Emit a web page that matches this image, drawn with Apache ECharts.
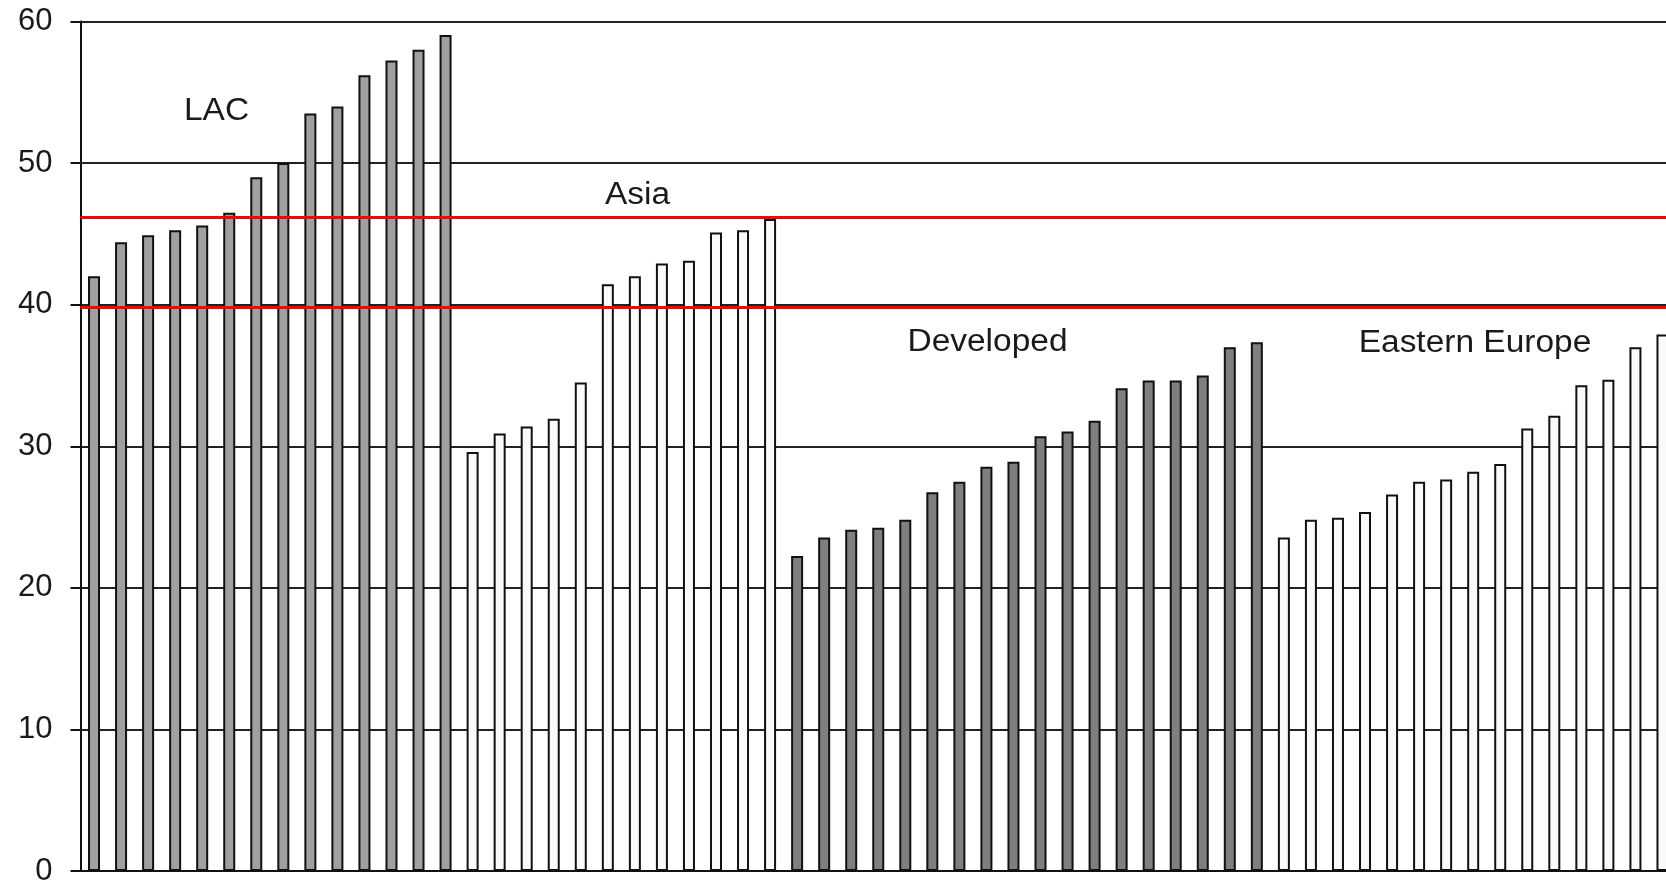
<!DOCTYPE html>
<html><head><meta charset="utf-8">
<script src="https://cdn.jsdelivr.net/npm/echarts@6/dist/echarts.min.js"></script>
<style>html,body{margin:0;padding:0;background:#fff}#c{width:1666px;height:880px}</style>
</head><body><div id="c"></div>
<script>
// Region values (percent)
const regions = ['LAC', 'Asia', 'Developed', 'Eastern Europe'];
const lac = [42.0, 44.4, 44.9, 45.25, 45.6, 46.5, 49.0, 50.0, 53.5, 54.0, 56.2, 57.25, 58.0, 59.05];
const asia = [29.6, 30.9, 31.4, 31.95, 34.5, 41.45, 42.0, 42.9, 43.1, 45.1, 45.25, 46.05];
const developed = [22.25, 23.55, 24.1, 24.25, 24.8, 26.75, 27.5, 28.55, 28.9, 30.7, 31.05, 31.8, 34.1, 34.65, 34.65, 35.0, 37.0, 37.35];
const easternEurope = [23.55, 24.8, 24.95, 25.35, 26.6, 27.5, 27.65, 28.2, 28.75, 31.25, 32.15, 34.3, 34.7, 37.0, 37.9];
const referenceLines = [46.2, 39.8];
const yTicks = [0, 10, 20, 30, 40, 50, 60];

const groups = [lac, asia, developed, easternEurope];
const fills = ['#a0a0a0', '#fafafa', '#7f7f7f', '#fafafa'];

const categories = [];
groups.forEach((g, gi) => g.forEach((v, i) => categories.push(regions[gi] + ' ' + (i + 1))));

let offset = 0;
const series = groups.map((g, gi) => {
  const data = categories.map(() => null);
  g.forEach((v, i) => { data[offset + i] = v; });
  offset += g.length;
  return {
    name: regions[gi], type: 'bar', stack: 'all', data: data,
    barWidth: 12, z: 2,
    itemStyle: { color: fills[gi], borderColor: '#111', borderWidth: 2 }
  };
});
series.push({
  type: 'line', data: [], z: 10, silent: true,
  markLine: {
    silent: true, symbol: 'none', label: { show: false },
    lineStyle: { color: '#ff0000', width: 3, type: 'solid' },
    data: referenceLines.map(v => ({ yAxis: v }))
  }
});

const chart = echarts.init(document.getElementById('c'), null, { renderer: 'canvas' });
const labelFont = '31px "Liberation Sans", Arial, sans-serif';
chart.setOption({
  animation: false,
  backgroundColor: '#ffffff',
  grid: { left: 80.5, top: 21.5, height: 849.5, width: 1595.5, containLabel: false, outerBoundsMode: 'none' },
  xAxis: {
    type: 'category', data: categories, boundaryGap: true,
    axisLine: { show: true, lineStyle: { color: '#111', width: 2 } },
    axisTick: { show: false }, axisLabel: { show: false }, splitLine: { show: false }
  },
  yAxis: {
    type: 'value', min: yTicks[0], max: yTicks[yTicks.length - 1], interval: 10,
    axisLine: { show: true, lineStyle: { color: '#111', width: 2 } },
    axisTick: { show: true, length: 10, lineStyle: { color: '#111', width: 2 } },
    axisLabel: { margin: 28, color: '#1a1a1a', fontSize: 31, fontFamily: '"Liberation Sans", Arial, sans-serif' },
    splitLine: { show: true, lineStyle: { color: '#222', width: 2 } }
  },
  series: series,
  graphic: [
    { type: 'text', x: 216.5, y: 111.5, scaleX: 1.08, z: 20, style: { text: regions[0], font: labelFont, fill: '#1a1a1a', align: 'center', verticalAlign: 'middle' } },
    { type: 'text', x: 637.5, y: 195.5, scaleX: 1.08, z: 20, style: { text: regions[1], font: labelFont, fill: '#1a1a1a', align: 'center', verticalAlign: 'middle' } },
    { type: 'text', x: 987.5, y: 342.5, scaleX: 1.08, z: 20, style: { text: regions[2], font: labelFont, fill: '#1a1a1a', align: 'center', verticalAlign: 'middle' } },
    { type: 'text', x: 1475, y: 343, scaleX: 1.08, z: 20, style: { text: regions[3], font: labelFont, fill: '#1a1a1a', align: 'center', verticalAlign: 'middle' } }
  ]
});
</script></body></html>
